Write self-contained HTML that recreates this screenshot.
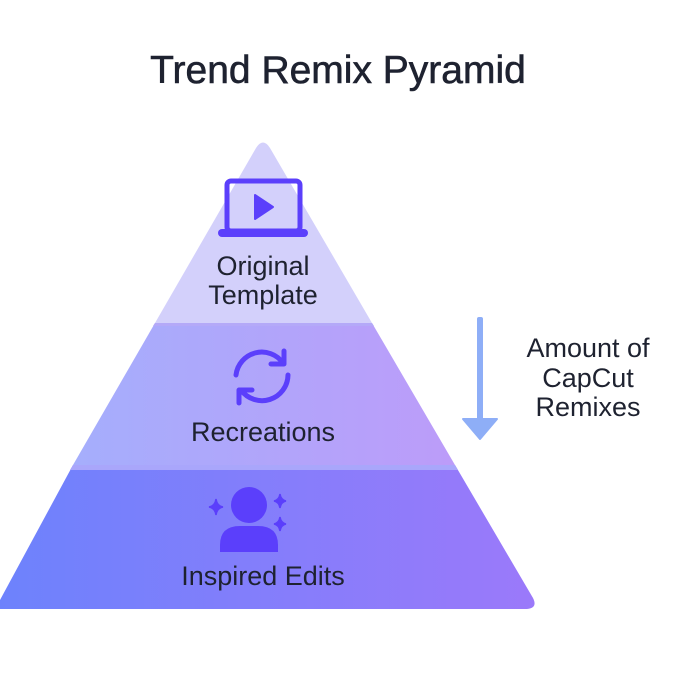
<!DOCTYPE html>
<html><head><style>
html,body{margin:0;padding:0;background:#fff;}
svg{display:block;}
text{font-family:"Liberation Sans",sans-serif;fill:#1e2230;}
</style></head><body>
<svg width="700" height="700" viewBox="0 0 700 700" xmlns="http://www.w3.org/2000/svg">
<defs>
<linearGradient id="gm" x1="0" y1="0" x2="1" y2="0">
<stop offset="0" stop-color="#a5aefc"/><stop offset="1" stop-color="#bc9cf9"/></linearGradient>
<linearGradient id="gb" x1="0" y1="0" x2="1" y2="0">
<stop offset="0" stop-color="#6d82fc"/><stop offset="1" stop-color="#9b79fa"/></linearGradient>
</defs>
<text x="338" y="83" font-size="39" text-anchor="middle" stroke="#1e2230" stroke-width="0.6">Trend Remix Pyramid</text>
<path d="M256,148 Q263,137 270,148 L372,323 L155,323 Z" fill="#d3d0fb"/>
<path d="M155,323 L372,323 L455,465 L73,465 Z" fill="url(#gm)"/>
<path d="M155,323 L372,323 L374,326 L153,326 Z" fill="#b4a9f8"/>
<path d="M73,465 L455,465 L533,598 Q538,608 527,609 L0,609 L0,600 Z" fill="url(#gb)"/>
<path d="M73,465 L455,465 L458,470 L70,470 Z" fill="#a9a6fb"/>
<rect x="227" y="181" width="73" height="50" rx="4" fill="none" stroke="#5b3ffb" stroke-width="5"/>
<rect x="218" y="229" width="90" height="8" rx="4" fill="#5b3ffb"/>
<path d="M255,195 L273,207 L255,219 Z" fill="#5b3ffb" stroke="#5b3ffb" stroke-width="2" stroke-linejoin="round"/>
<text x="263" y="275" font-size="27" text-anchor="middle">Original</text>
<text x="263" y="304" font-size="27" text-anchor="middle">Template</text>
<g fill="none" stroke="#5b3ffb" stroke-width="5" stroke-linecap="round" stroke-linejoin="round">
<path d="M236,375 A26,26 0 0 1 283,363"/>
<path d="M288,375 A26,26 0 0 1 241,390"/>
<path d="M284,351 L284,364 L271,364"/>
<path d="M239,403 L239,390 L252,390"/>
</g>
<text x="263" y="441" font-size="27" text-anchor="middle">Recreations</text>
<circle cx="249" cy="505" r="18" fill="#5b3ffb"/>
<path d="M220,552 L220,545 Q220,526 240,526 L258,526 Q278,526 278,545 L278,552 Z" fill="#5b3ffb"/>
<path d="M216,499 Q217,506 223,507 Q217,508 216,515 Q215,508 209,507 Q215,506 216,499 Z" fill="#5b3ffb" stroke="#5b3ffb" stroke-width="1.5"/>
<path d="M280,494 Q281,500 286,501 Q281,502 280,508 Q279,502 274,501 Q279,500 280,494 Z" fill="#5b3ffb" stroke="#5b3ffb" stroke-width="1.5"/>
<path d="M280,517 Q281,523 286,524 Q281,525 280,531 Q279,525 274,524 Q279,523 280,517 Z" fill="#5b3ffb" stroke="#5b3ffb" stroke-width="1.5"/>
<text x="263" y="585" font-size="27" text-anchor="middle">Inspired Edits</text>
<rect x="477" y="317" width="6" height="104" rx="2" fill="#8eaef7"/>
<path d="M463,419 L497,419 L480,439 Z" fill="#8eaef7" stroke="#8eaef7" stroke-width="2" stroke-linejoin="round"/>
<text x="588" y="357" font-size="27" text-anchor="middle">Amount of</text>
<text x="588" y="387" font-size="27" text-anchor="middle">CapCut</text>
<text x="588" y="416" font-size="27" text-anchor="middle">Remixes</text>
</svg>
</body></html>
